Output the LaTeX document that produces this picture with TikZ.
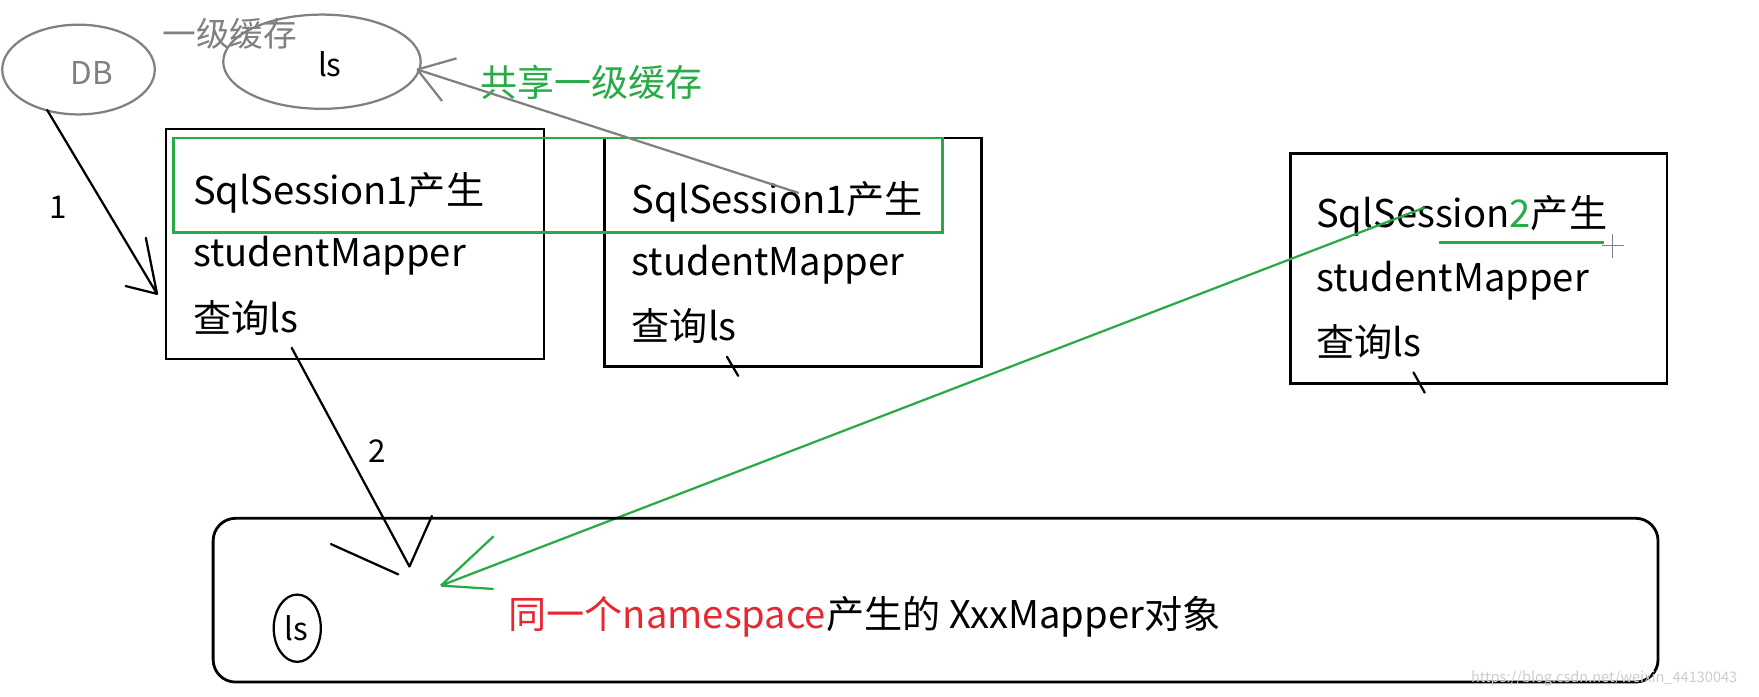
\documentclass[tikz,border=0pt]{standalone}
\usepackage{fontspec}
\setmainfont{Noto Sans CJK SC}
\definecolor{gr}{RGB}{128,128,128}
\definecolor{gn}{RGB}{40,170,70}
\definecolor{rd}{RGB}{230,40,50}
\begin{document}
\begin{tikzpicture}[x=1pt,y=-1pt,
  txt/.style={anchor=west,inner sep=0pt,font=\fontsize{34}{36}\selectfont},
  boxs/.style={draw,line width=2.5pt},
  pen/.style={line width=2pt,line cap=round}]
\useasboundingbox (0,0) rectangle (1568,621);
% ellipses
\draw[gr,line width=2pt] (70,62) ellipse [x radius=68,y radius=40];
\node[gr,font=\fontsize{28}{30}\selectfont] (db) at (82,65) {DB};
\node[gr,font=\fontsize{30}{32}\selectfont] (l1) at (205,30) {一级缓存};
\draw[gr,line width=2pt] (287,55) ellipse [x radius=88,y radius=42];
\node[font=\fontsize{28}{30}\selectfont] (ls1) at (294,57) {ls};
\coordinate (lsR) at (372,62);
\node[gn,font=\fontsize{33}{36}\selectfont] (share) at (527,73) {共享一级缓存};
% boxes
\draw[boxs] (148,115) rectangle (485,320);
\node[txt] (a1) at (172,172) {SqlSession1产生};
\node[txt] (a2) at (172,228) {studentMapper};
\node[txt] (a3) at (172,283) {查询ls};
\draw[boxs] (539,123) rectangle (875,327);
\node[txt] (b1) at (563,180) {SqlSession1产生};
\node[txt] (b2) at (563,236) {studentMapper};
\node[txt] (b3) at (563,291) {查询ls};
\draw[pen] (648,318) -- (658,335);
\draw[boxs] (1150,137) rectangle (1486,342);
\node[txt] (c1) at (1173,192) {SqlSession\textcolor{gn}{2}产生};
\node[txt] (c2) at (1173,250) {studentMapper};
\node[txt] (c3) at (1173,305) {查询ls};
\draw[pen] (1260,332) -- (1270,350);
\draw[gn,line width=2.5pt] (1283,216) -- (1430,216);
\draw[gr,line width=1pt] (1428,219) -- (1448,219) (1437,209) -- (1437,230);
\draw[gn,line width=2.5pt] (155,123) rectangle (840,207);
% gray arrow
\coordinate (gs) at (712,172);
\draw[gr,line width=2pt] (gs) -- (lsR);
\draw[gr,line width=2pt] (lsR) -- ++(35,-10) (lsR) -- ++(22,28);
% arrow 1
\coordinate (s1) at (42,98); \coordinate (e1) at (140,262);
\draw[pen] (s1) -- (e1) (e1) -- (112,255) (e1) -- (130,212);
\node[font=\fontsize{28}{30}\selectfont] (n1) at (52,185) {1};
% arrow 2
\coordinate (s2) at (260,310); \coordinate (e2) at (365,505);
\draw[pen] (s2) -- (e2) (355,512) -- (295,485) (e2) -- (385,460);
\node[font=\fontsize{28}{30}\selectfont] (n2) at (336,402) {2};
% green arrow
\coordinate (s3) at (1270,185); \coordinate (e3) at (393,522);
\draw[gn,line width=2pt] (s3) -- (e3) (e3) -- (440,478) (e3) -- (440,525);
% bottom box
\draw[boxs,rounded corners=20] (190,462) rectangle (1478,608);
\draw[line width=2pt] (265,560) ellipse [x radius=21,y radius=30];
\node[font=\fontsize{28}{30}\selectfont] (ls2) at (264,560) {ls};
\node[txt,font=\fontsize{34}{36}\selectfont] (ns) at (453,550) {\textcolor{rd}{同一个namespace}产生的 XxxMapper对象};
\node[gray!40,font=\fontsize{13}{14}\selectfont] (wm) at (1430,605) {https://blog.csdn.net/weixin\_44130043};
\end{tikzpicture}
\end{document}
